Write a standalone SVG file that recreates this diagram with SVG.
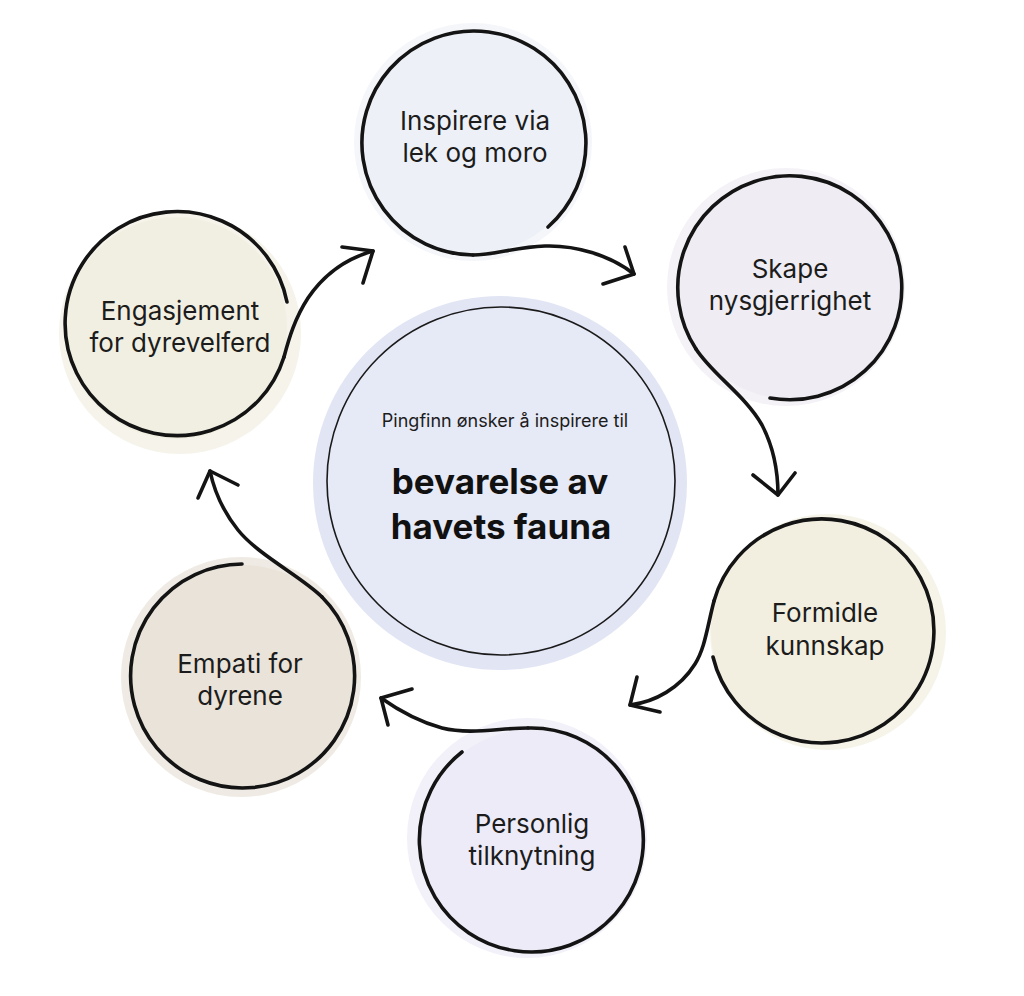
<svg xmlns="http://www.w3.org/2000/svg" width="1024" height="996" viewBox="0 0 1024 996">
  <style>
    .ring{fill:none;stroke:#141414;stroke-width:3.6;stroke-linecap:round}
    .link{fill:none;stroke:#141414;stroke-width:3.6;stroke-linecap:round;stroke-linejoin:round}
    .label{font-family:Inter,"Liberation Sans",sans-serif;font-size:26px;fill:#1c1c1c;text-anchor:middle}
    .intro{font-family:Inter,"Liberation Sans",sans-serif;font-size:18px;fill:#1c1c1c;text-anchor:middle}
    .title{font-family:Inter,"Liberation Sans",sans-serif;font-size:35px;font-weight:700;fill:#111;text-anchor:middle}
  </style>
  <rect width="1024" height="996" fill="#ffffff"/>

  <!-- central statement -->
  <g id="center">
    <circle cx="500" cy="483" r="187" fill="#e2e5f4"/>
    <circle cx="501" cy="481" r="174" fill="#e6e9f6" stroke="#1a1a1a" stroke-width="1.6"/>
    <text class="intro" x="505" y="427">Pingfinn ønsker å inspirere til</text>
    <text class="title" x="500" y="494">bevarelse av</text>
    <text class="title" x="501" y="539">havets fauna</text>
  </g>

  <g id="node-inspirere">
    <circle cx="473" cy="142" r="119" fill="#f4f6fa"/>
    <circle cx="473" cy="143" r="111" fill="#edf1f7"/>
    <path class="ring" d="M548,227 A112,112 0 1 0 473,255"/>
    <text class="label" x="475" y="130">Inspirere via</text>
    <text class="label" x="475" y="162">lek og moro</text>
  </g>

  <g id="node-skape">
    <circle cx="786" cy="287" r="119" fill="#f4f2f7"/>
    <circle cx="790" cy="288" r="111" fill="#efedf3"/>
    <path class="ring" d="M770,398 A112,112 0 1 0 696,349"/>
    <text class="label" x="790" y="278">Skape</text>
    <text class="label" x="790" y="310">nysgjerrighet</text>
  </g>

  <g id="node-formidle">
    <circle cx="828" cy="632" r="118" fill="#f6f4e9"/>
    <circle cx="822" cy="630" r="111" fill="#f2efe0"/>
    <path class="ring" d="M713,657 A112,112 0 1 0 714,601"/>
    <text class="label" x="825" y="622">Formidle</text>
    <text class="label" x="825" y="655">kunnskap</text>
  </g>

  <g id="node-personlig">
    <circle cx="527" cy="838" r="120" fill="#f2f1fa"/>
    <circle cx="532" cy="840" r="111" fill="#ecebf7"/>
    <path class="ring" d="M462,752 A112,112 0 1 0 528,728"/>
    <text class="label" x="532" y="833">Personlig</text>
    <text class="label" x="532" y="865">tilknytning</text>
  </g>

  <g id="node-empati">
    <circle cx="241" cy="677" r="120" fill="#efebe4"/>
    <circle cx="243" cy="676" r="111" fill="#e9e3d9"/>
    <path class="ring" d="M242,564 A112,112 0 1 0 322,597"/>
    <text class="label" x="240" y="673">Empati for</text>
    <text class="label" x="240" y="705">dyrene</text>
  </g>

  <g id="node-engasjement">
    <circle cx="180" cy="333" r="121" fill="#f5f3ea"/>
    <circle cx="176" cy="328" r="111" fill="#f1efe1"/>
    <path class="ring" d="M287,302 A112,112 0 1 0 284,357"/>
    <text class="label" x="180" y="320">Engasjement</text>
    <text class="label" x="180" y="352">for dyrevelferd</text>
  </g>

  <!-- tails leaving each ring and their open arrowheads -->
  <g id="connectors">
    <path class="link" d="M473,255 C495,255 515,247 545,246 C575,245 610,255 634,274"/>
    <polyline class="link" points="625,247 634,274 603,284"/>

    <path class="link" d="M696,349 C712,374 745,395 762,425 C774,448 778,472 778,495"/>
    <polyline class="link" points="753,475 778,495 795,473"/>

    <path class="link" d="M714,601 C707,628 705,648 695,664 C680,688 655,702 630,705"/>
    <polyline class="link" points="637,677 630,705 660,712"/>

    <path class="link" d="M528,728 C500,728 470,735 442,728 C420,722 398,710 381,698"/>
    <polyline class="link" points="412,689 381,698 388,725"/>

    <path class="link" d="M322,597 C302,577 258,555 238,530 C222,510 214,490 210,471"/>
    <polyline class="link" points="198,498 210,471 238,485"/>

    <path class="link" d="M284,357 C289,338 295,318 308,298 C325,273 348,258 373,251"/>
    <polyline class="link" points="342,247 373,251 363,283"/>
  </g>
</svg>
